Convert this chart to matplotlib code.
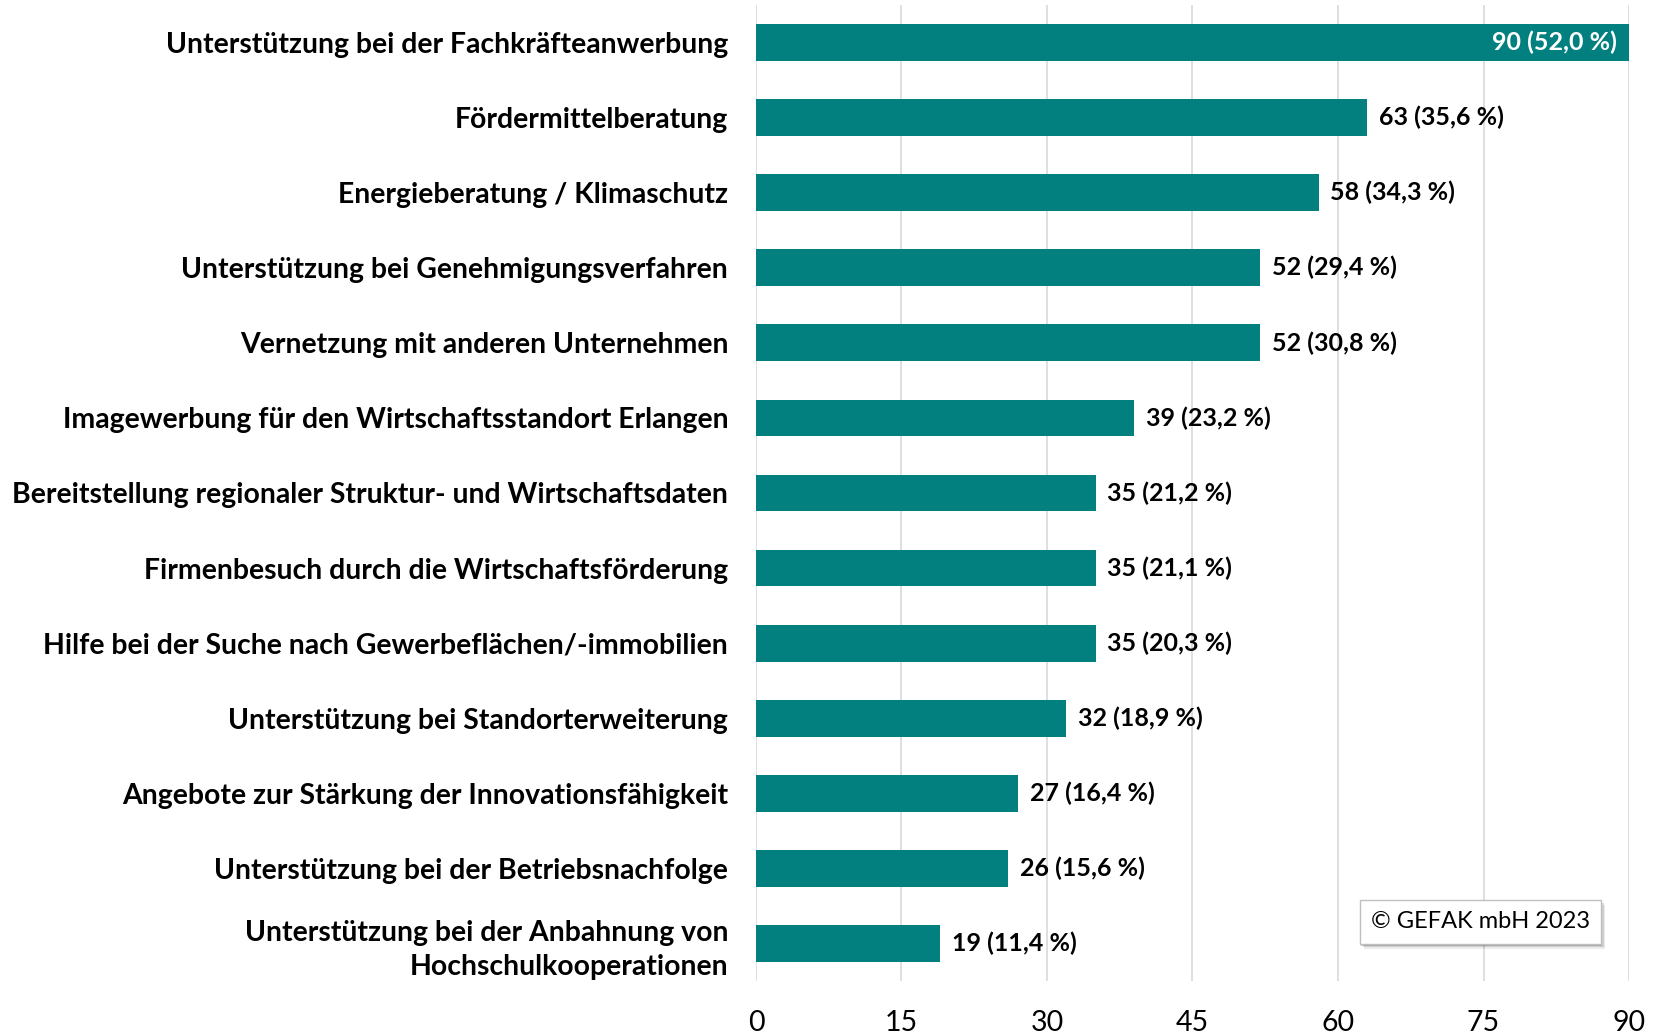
import matplotlib
matplotlib.use('Agg')
import matplotlib.pyplot as plt
from matplotlib.patches import FancyBboxPatch

plt.rcParams['font.family'] = ['Lato', 'DejaVu Sans']

categories = [
    "Unterstützung bei der Fachkräfteanwerbung",
    "Fördermittelberatung",
    "Energieberatung / Klimaschutz",
    "Unterstützung bei Genehmigungsverfahren",
    "Vernetzung mit anderen Unternehmen",
    "Imagewerbung für den Wirtschaftsstandort Erlangen",
    "Bereitstellung regionaler Struktur- und Wirtschaftsdaten",
    "Firmenbesuch durch die Wirtschaftsförderung",
    "Hilfe bei der Suche nach Gewerbeflächen/-immobilien",
    "Unterstützung bei Standorterweiterung",
    "Angebote zur Stärkung der Innovationsfähigkeit",
    "Unterstützung bei der Betriebsnachfolge",
    "Unterstützung bei der Anbahnung von\nHochschulkooperationen",
]
counts = [90, 63, 58, 52, 52, 39, 35, 35, 35, 32, 27, 26, 19]
shares = ["52,0", "35,6", "34,3", "29,4", "30,8", "23,2", "21,2", "21,1", "20,3", "18,9", "16,4", "15,6", "11,4"]
xticks = [0, 15, 30, 45, 60, 75, 90]

teal = '#028080'

fig = plt.figure(figsize=(16.58, 10.36), dpi=100)
ax = fig.add_axes([756 / 1658, 1 - 981 / 1036, (1629 - 756) / 1658, 976 / 1036])

pos = list(range(len(categories)))
ax.barh(pos, counts, height=0.49, color=teal, zorder=3)
ax.set_ylim(len(categories) - 0.5, -0.5)
ax.set_xlim(0, 90)

ax.set_yticks(pos)
ax.set_yticklabels(categories, fontsize=20.4, fontweight='bold', linespacing=1.4)
ax.set_xticks(xticks)
ax.set_xticklabels([str(t) for t in xticks], fontsize=20.5)
ax.tick_params(axis='both', length=0)
ax.tick_params(axis='y', pad=20)
ax.tick_params(axis='x', pad=21)

ax.grid(axis='x', color='#d9d9d9', linewidth=1.2, zorder=0)
for side in ['top', 'right', 'bottom', 'left']:
    ax.spines[side].set_visible(False)

# value labels: the longest bar carries its label inside
for i, (c, s) in enumerate(zip(counts, shares)):
    txt = f"{c} ({s} %)"
    if i == 0:
        ax.text(c - 1.2, i, txt, va='center', ha='right', color='white',
                fontsize=18, fontweight='bold', zorder=4)
    else:
        ax.text(c + 1.2, i, txt, va='center', ha='left', color='black',
                fontsize=18, fontweight='bold', zorder=4)

# copyright box with a soft drop shadow
bx, by, bw, bh = 1360 / 1658, 1 - 944 / 1036, 241 / 1658, 44 / 1036
for k, a in enumerate([0.08, 0.12, 0.18]):
    off = (3 - k) * 1.5
    fig.patches.append(FancyBboxPatch((bx + off / 1658, by - off / 1036), bw, bh,
                                      boxstyle='square,pad=0', transform=fig.transFigure,
                                      facecolor='black', edgecolor='none', alpha=a, zorder=5))
fig.patches.append(FancyBboxPatch((bx, by), bw, bh, boxstyle='square,pad=0',
                                  transform=fig.transFigure, facecolor='white',
                                  edgecolor='#bfbfbf', linewidth=1, zorder=6))
fig.text(bx + bw / 2, by + bh / 2, "© GEFAK mbH 2023", ha='center', va='center',
         fontsize=17, zorder=7)

fig.savefig("out.png", dpi=100)
